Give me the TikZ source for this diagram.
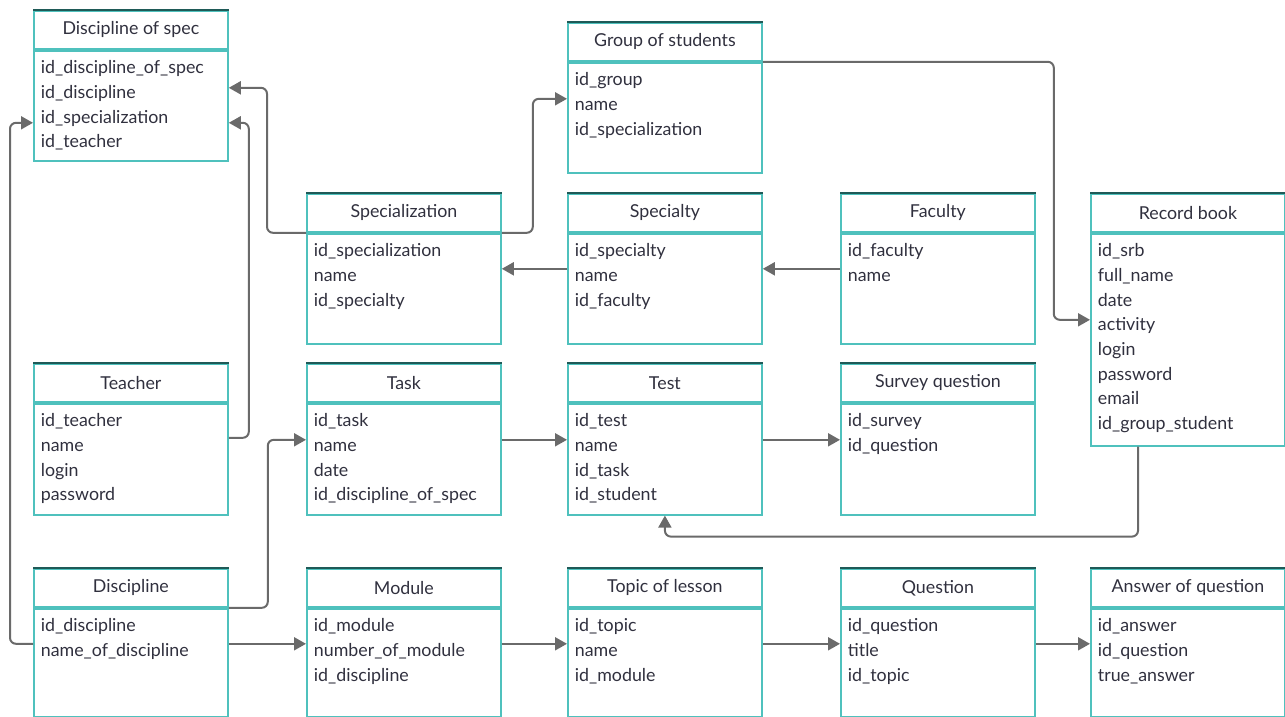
\documentclass[tikz,border=0pt]{standalone}
\usepackage{fontspec}
\setmainfont{Lato}
\usetikzlibrary{arrows.meta}
\definecolor{tblline}{HTML}{4FC1BD}
\definecolor{tbltop}{HTML}{1F5A57}
\definecolor{tbltext}{HTML}{30303E}
\definecolor{linkgray}{HTML}{6A6A6A}
\newcommand{\fieldlist}[2]{\parbox[c][#1][t]{180pt}{\rule{0pt}{23pt}#2}}
\tikzset{
  tblhead/.style={draw=tblline, line width=1.8pt, anchor=north west, inner sep=0pt,
    minimum width=194pt, minimum height=38pt, text=tbltext, font=\fontsize{17.8}{20}\selectfont,
    append after command={(\tikzlastnode.north west) edge[draw=tbltop, line width=1.2pt] (\tikzlastnode.north east)}},
  tblbody/.style={draw=tblline, line width=1.8pt, anchor=north west, inner xsep=7pt, inner ysep=0pt,
    text=tbltext, font=\fontsize{17.8}{24.7}\selectfont},
  link/.style={draw=linkgray, line width=2pt, rounded corners=6pt, -{Triangle[length=12pt,width=13pt]}}
}
\begin{document}
\begin{tikzpicture}[x=1pt,y=-1pt]
\useasboundingbox (0,0) rectangle (1285,716);
% tables
\node[tblhead] (dspec-h) at (33,10) {Discipline of spec};
\node[tblbody] (dspec) at (dspec-h.south west) {\fieldlist{110pt}{id\_discipline\_of\_spec\\id\_discipline\\id\_specialization\\id\_teacher}};
\node[tblhead] (group-h) at (567,22) {Group of students};
\node[tblbody] (group) at (group-h.south west) {\fieldlist{110pt}{id\_group\\name\\id\_specialization}};
\node[tblhead] (spec-h) at (306,193) {Specialization};
\node[tblbody] (spec) at (spec-h.south west) {\fieldlist{110pt}{id\_specialization\\name\\id\_specialty}};
\node[tblhead] (specialty-h) at (567,193) {Specialty};
\node[tblbody] (specialty) at (specialty-h.south west) {\fieldlist{110pt}{id\_specialty\\name\\id\_faculty}};
\node[tblhead] (faculty-h) at (840,193) {Faculty};
\node[tblbody] (faculty) at (faculty-h.south west) {\fieldlist{110pt}{id\_faculty\\name}};
\node[tblhead] (record-h) at (1090,193) {Record book};
\node[tblbody] (record) at (record-h.south west) {\fieldlist{212pt}{id\_srb\\full\_name\\date\\activity\\login\\password\\email\\id\_group\_student}};
\node[tblhead] (teacher-h) at (33,363) {Teacher};
\node[tblbody] (teacher) at (teacher-h.south west) {\fieldlist{111pt}{id\_teacher\\name\\login\\password}};
\node[tblhead] (task-h) at (306,363) {Task};
\node[tblbody] (task) at (task-h.south west) {\fieldlist{111pt}{id\_task\\name\\date\\id\_discipline\_of\_spec}};
\node[tblhead] (test-h) at (567,363) {Test};
\node[tblbody] (test) at (test-h.south west) {\fieldlist{111pt}{id\_test\\name\\id\_task\\id\_student}};
\node[tblhead] (survey-h) at (840,363) {Survey question};
\node[tblbody] (survey) at (survey-h.south west) {\fieldlist{111pt}{id\_survey\\id\_question}};
\node[tblhead] (disc-h) at (33,568) {Discipline};
\node[tblbody] (disc) at (disc-h.south west) {\fieldlist{108pt}{id\_discipline\\name\_of\_discipline}};
\node[tblhead] (module-h) at (306,568) {Module};
\node[tblbody] (module) at (module-h.south west) {\fieldlist{108pt}{id\_module\\number\_of\_module\\id\_discipline}};
\node[tblhead] (topic-h) at (567,568) {Topic of lesson};
\node[tblbody] (topic) at (topic-h.south west) {\fieldlist{108pt}{id\_topic\\name\\id\_module}};
\node[tblhead] (question-h) at (840,568) {Question};
\node[tblbody] (question) at (question-h.south west) {\fieldlist{108pt}{id\_question\\title\\id\_topic}};
\node[tblhead] (answer-h) at (1090,568) {Answer of question};
\node[tblbody] (answer) at (answer-h.south west) {\fieldlist{108pt}{id\_answer\\id\_question\\true\_answer}};
% links
\draw[link] (spec-h.south west) -- ++(-39,0) |- ([yshift=-38pt]dspec.north east);
\draw[link] (spec-h.south east) -- ++(31,0) |- ([yshift=-37pt]group.north west);
\draw[link] ([yshift=-35pt]teacher.north east) -- ++(20,0) |- ([yshift=-73pt]dspec.north east);
\draw[link] ([yshift=-36pt]disc.north west) -- ++(-23,0) |- ([yshift=-73pt]dspec.north west);
\draw[link] (disc-h.south east) -- ++(39,0) |- ([yshift=-37pt]task.north west);
\draw[link] ([yshift=-36pt]specialty.north west) -- ([yshift=-36pt]spec.north east);
\draw[link] ([yshift=-36pt]faculty.north west) -- ([yshift=-36pt]specialty.north east);
\draw[link] (group-h.south east) -- ++(291,0) |- ([yshift=-87pt]record.north west);
\draw[link] ([xshift=48pt]record.south west) -- ++(0,90) -| (test.south);
\draw[link] ([yshift=-37pt]task.north east) -- ([yshift=-37pt]test.north west);
\draw[link] ([yshift=-37pt]test.north east) -- ([yshift=-37pt]survey.north west);
\draw[link] ([yshift=-36pt]disc.north east) -- ([yshift=-36pt]module.north west);
\draw[link] ([yshift=-36pt]module.north east) -- ([yshift=-36pt]topic.north west);
\draw[link] ([yshift=-36pt]topic.north east) -- ([yshift=-36pt]question.north west);
\draw[link] ([yshift=-36pt]question.north east) -- ([yshift=-36pt]answer.north west);
\end{tikzpicture}
\end{document}
